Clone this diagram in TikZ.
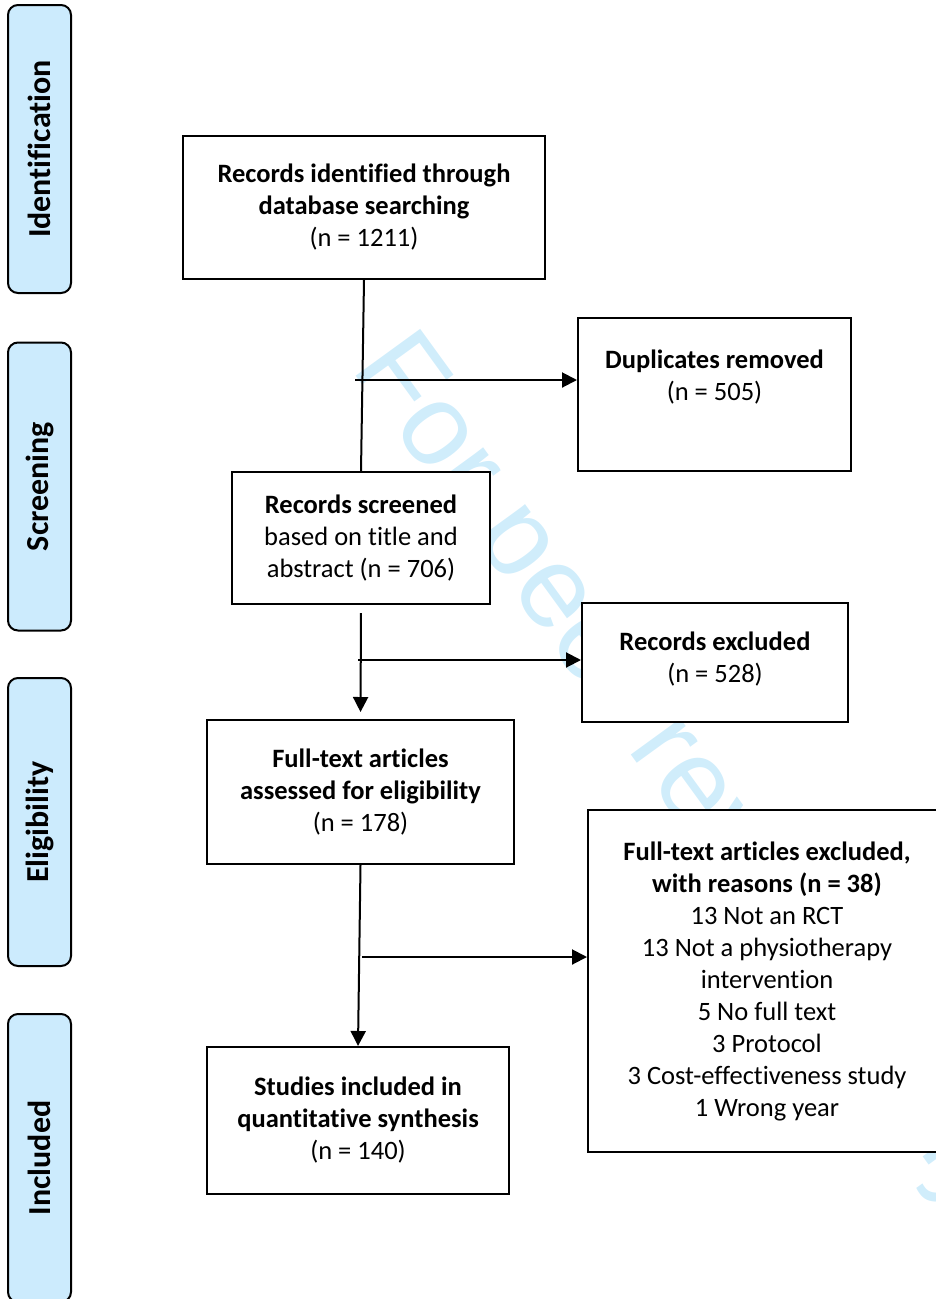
\documentclass[tikz,border=0pt]{standalone}
\usepackage{fontspec}
\setmainfont[Ligatures=NoCommon]{Carlito}
\newfontfamily\wmfont{Liberation Sans}
\usetikzlibrary{arrows.meta}
\definecolor{stageblue}{RGB}{204,235,253}
\definecolor{wmblue}{RGB}{208,237,251}
\tikzstyle{stage}=[draw,line width=2pt,rounded corners=10pt,fill=stageblue,rotate=90,minimum width=288pt,minimum height=63pt,inner sep=0pt,font=\bfseries\fontsize{32}{38}\selectfont]
\tikzstyle{box}=[draw,line width=2pt,fill=white,align=center,inner sep=0pt,font=\fontsize{26.5}{32}\selectfont]
\tikzstyle{edge} = [draw,line width=2pt,-]
\tikzstyle{arrow} = [edge,-{Triangle[length=15pt,width=15pt]}]
\tikzstyle{watermark} = [text=wmblue,anchor=base west,rotate=-54,inner sep=0pt,font=\wmfont\fontsize{116}{116}\selectfont]

\begin{document}
\begin{tikzpicture}[x=1pt,y=-1pt]
        \useasboundingbox (0,0) rectangle (936,1299);
        \clip (0,0) rectangle (936,1299);
        % watermark behind everything
        \node[watermark] (wm) at (350,368) {For peer review only};
        % stages
        \node[stage] (s1) at (39.5,149) {Identification};
        \node[stage] (s2) at (39.5,486.5) {Screening};
        \node[stage] (s3) at (39.5,822) {Eligibility};
        \node[stage] (s4) at (39.5,1158) {Included};
        % boxes
        \node[box,minimum width=362pt,minimum height=143pt] (ident) at (364,207.5) {\textbf{Records identified through}\\\textbf{database searching}\\(n = 1211)};
        \node[box,minimum width=273pt,minimum height=153pt] (dup) at (714.5,394.5) {\textbf{Duplicates removed}\\(n = 505)\\[6pt]\mbox{}};
        \node[box,minimum width=258pt,minimum height=132pt] (screen) at (361,538) {\textbf{Records screened}\\based on title and\\abstract (n = 706)};
        \node[box,minimum width=266pt,minimum height=119pt] (rexcl) at (715,662.5) {\textbf{Records excluded}\\(n = 528)\\[-22pt]\mbox{}};
        \node[box,minimum width=307pt,minimum height=144pt] (assess) at (360.5,792) {\textbf{Full-text articles}\\\textbf{assessed for eligibility}\\(n = 178)};
        \node[box,minimum width=358pt,minimum height=342pt] (fexcl) at (767,981) {\textbf{Full-text articles excluded,}\\\textbf{with reasons (n = 38)}\\13 Not an RCT\\13 Not a physiotherapy\\intervention\\5 No full text\\3 Protocol\\3 Cost-effectiveness study\\1 Wrong year};
        \node[box,minimum width=302pt,minimum height=147pt] (incl) at (358,1120.5) {\textbf{Studies included in}\\\textbf{quantitative synthesis}\\(n = 140)};
        % branch points
        \coordinate (j1) at (355,380);
        \coordinate (j2) at (358,660);
        \coordinate (j3) at (362,957);
        % connectors
        \path[edge] (ident.south) -- (screen.north);
        \path[arrow] (j1) -- (j1 -| dup.west);
        \path[arrow,shorten <=8pt,shorten >=7pt] (screen.south) -- (assess.north);
        \path[arrow] (j2) -- (j2 -| rexcl.west);
        \path[arrow] (assess.south) -- (incl.north);
        \path[arrow] (j3) -- (j3 -| fexcl.west);
    \end{tikzpicture}
\end{document}
